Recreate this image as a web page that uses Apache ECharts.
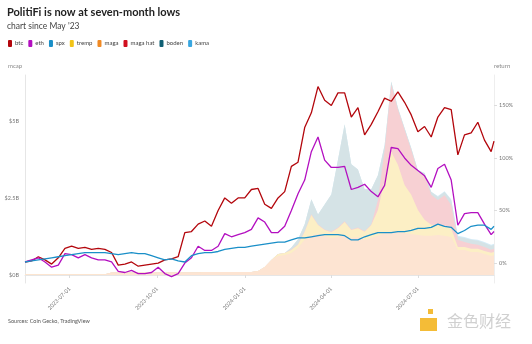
<!DOCTYPE html>
<html><head><meta charset="utf-8">
<script src="https://cdn.jsdelivr.net/npm/echarts@6/dist/echarts.min.js"></script>
<style>html,body{margin:0;padding:0;background:#fff}#c{width:532px;height:344px}</style>
</head><body><div id="c"></div>
<script>
// weekly dates from 2023-05-15, plus last day
const startDay = '2023-05-15';
const lastDay = '2024-09-19';
const weeks = 71;
const xTickLabels = ['2023-07-01','2023-10-01','2024-01-01','2024-04-01','2024-07-01'];
const leftTicks = [0, 2.5, 5];
const leftTickLabels = ['$0B','$2.5B','$5B'];
const rightTicks = [0, 50, 100, 150];

// returns, % (72 points)
const btc = [1,2,6,3,-1,5,14,16,14,15,13,14,
  13,10,-2,-1,1,-3,-2,-1,0,3,4,6,
  29,30,37,40,35,50,62,57,62,62,70,71,
  56,52,62,68,92,96,129,143,168,155,150,162,
  162,139,148,122,132,144,157,154,163,153,141,125,
  130,120,139,148,146,103,122,124,134,117,106,116];
const eth = [1,3,5,1,-4,-2,9,8,5,8,5,3,
  3,1,-8,-9,-7,-10,-10,-9,-4,-10,-13,-10,
  0,5,16,12,12,16,28,25,27,29,32,43,
  39,29,29,35,50,66,79,106,120,98,91,91,
  92,70,72,75,68,63,74,110,109,100,93,88,
  83,72,90,94,79,36,47,48,48,37,27,30];
const spx = [1,2,3,4,5,6,7,8,9,10,10,10,
  10,9,8,9,10,9,9,7,5,3,4,2,
  1,7,9,10,10,11,13,14,15,15,16,17,
  18,19,20,20,22,24,24,25,26,27,27,27,
  26,22,22,25,27,29,29,29,30,30,31,33,
  33,34,37,35,34,28,31,35,36,36,32,35];

// market caps, $B (72 points each, stacked maga -> tremp -> maga hat -> boden -> kama)
const maga = [0.02,0.02,0.02,0.02,0.02,0.02,0.02,0.02,0.02,0.02,0.02,0.02,
  0.02,0.08,0.08,0.08,0.08,0.08,0.08,0.08,0.08,0.08,0.08,0.08,
  0.08,0.08,0.08,0.1,0.1,0.1,0.1,0.1,0.1,0.1,0.1,0.13,
  0.26,0.49,0.62,0.65,0.71,0.88,1.14,1.27,1.33,1.27,1.2,1.23,
  1.27,1.2,1.23,1.14,1.2,1.27,1.36,1.4,1.4,1.36,1.33,1.3,
  1.27,1.27,1.3,1.27,1.23,0.81,0.81,0.75,0.75,0.68,0.62,0.65];
const tremp = [0,0,0,0,0,0,0,0,0,0,0,0,
  0,0,0,0,0,0,0,0,0,0,0,0,
  0,0,0,0,0,0,0,0,0,0,0,0,
  0,0,0.06,0.06,0.1,0.1,0.26,0.68,0.29,0.19,0.19,0.29,
  0.45,0.26,0.29,0.26,0.42,0.84,1.72,2.6,2.18,1.56,1.27,0.81,
  0.52,0.36,0.32,0.32,0.29,0.1,0.1,0.1,0.1,0.1,0.1,0.1];
const magaHat = [0,0,0,0,0,0,0,0,0,0,0,0,
  0,0,0,0,0,0,0,0,0,0,0,0,
  0,0,0,0,0,0,0,0,0,0,0,0,
  0,0,0,0,0.02,0.02,0.02,0.02,0.02,0.02,0.02,0.02,
  0.02,0.02,0.02,0.02,0.02,0.32,0.97,2.18,1.79,1.79,1.46,1.23,
  1.46,0.97,0.81,1.0,0.75,0.23,0.16,0.16,0.13,0.13,0.1,0.1];
const boden = [0,0,0,0,0,0,0,0,0,0,0,0,
  0,0,0,0,0,0,0,0,0,0,0,0,
  0,0,0,0,0,0,0,0,0,0,0,0,
  0,0,0,0,0.06,0.16,0.23,0.49,0.32,0.81,1.2,2.2,
  3.15,2.11,1.88,1.36,1.14,0.81,0.16,0.1,0.06,0.06,0.06,0.06,
  0.06,0.1,0.1,0.1,0.16,0.1,0.13,0.13,0.13,0.13,0.13,0.13];
const kama = [0,0,0,0,0,0,0,0,0,0,0,0,
  0,0,0,0,0,0,0,0,0,0,0,0,
  0,0,0,0,0,0,0,0,0,0,0,0,
  0,0,0,0,0,0,0,0,0,0,0,0,
  0,0,0,0,0,0,0,0,0,0,0,0,
  0,0,0.03,0.03,0.03,0.03,0.03,0.03,0.03,0.03,0.03,0.03];

const DAY = 864e5;
const t0 = Date.parse(startDay + 'T00:00:00Z');
const dates = [];
for (let i = 0; i < weeks; i++) dates.push(t0 + i * 7 * DAY);
dates.push(Date.parse(lastDay + 'T00:00:00Z'));
const pair = arr => arr.map((v, i) => [dates[i], v]);
const xTickValues = xTickLabels.map(s => Date.parse(s + 'T00:00:00Z'));

// cumulative tops of the stacked layers (drawn back-to-front, opaque fills)
const layers = [maga, tremp, magaHat, boden, kama];
const cum = [];
layers.forEach((arr, k) => cum.push(arr.map((v, i) => +(v + (k ? cum[k - 1][i] : 0)).toFixed(3))));

const FONT = 'Lato';
const chart = echarts.init(document.getElementById('c'), null, {renderer: 'canvas'});
function lineS(name, data, color) {
  return {name, type: 'line', yAxisIndex: 1, data: pair(data), showSymbol: false, symbol: 'none',
    color, lineStyle: {width: 1.3, color}, z: 5, animation: false};
}
function areaS(name, data, color, fill) {
  return {name, type: 'line', yAxisIndex: 0, data: pair(data), showSymbol: false, symbol: 'none',
    color, lineStyle: {width: 0}, areaStyle: {color: fill, opacity: 1, origin: 'auto'}, z: 2, animation: false};
}
const fmtDate = v => { const d = new Date(v); const p = n => String(n).padStart(2,'0'); return d.getUTCFullYear()+'-'+p(d.getUTCMonth()+1)+'-'+p(d.getUTCDate()); };

chart.setOption({
  animation: false,
  textStyle: {fontFamily: FONT},
  title: [
    {text: 'PolitiFi is now at seven-month lows', left: 7, top: 7, padding: 0,
     textStyle: {fontFamily: FONT, fontWeight: 'bold', fontSize: 11, color: '#222'}},
    {text: 'chart since May \'23', left: 7, top: 22, padding: 0,
     textStyle: {fontFamily: FONT, fontWeight: 'normal', fontSize: 8.5, color: '#444'}}
  ],
  legend: {
    left: 8, top: 40, padding: 0, icon: 'roundRect', itemWidth: 4, itemHeight: 7, itemGap: 5,
    textStyle: {fontFamily: FONT, fontSize: 6, color: '#444', padding: [0,0,0,-2]},
    data: ['btc','eth','spx','tremp','maga','maga hat','boden','kama']
  },
  grid: {left: 25, right: 38, top: 75, bottom: 61, containLabel: false},
  xAxis: {
    type: 'value', min: t0, max: dates[dates.length - 1],
    axisLine: {show: true, lineStyle: {color: '#e6e6e6'}},
    axisTick: {show: true, length: 3, lineStyle: {color: '#dddddd'}, customValues: xTickValues},
    splitLine: {show: false},
    axisLabel: {customValues: xTickValues, rotate: 45, fontSize: 5.5, color: '#777', margin: 5, formatter: v => fmtDate(v)}
  },
  yAxis: [
    {type: 'value', min: -0.26, max: 6.49, position: 'left',
     name: 'mcap', nameLocation: 'end', nameGap: 6, nameTextStyle: {fontSize: 6, color: '#888', align: 'left', padding: [0,0,0,-17]},
     axisLine: {show: true, lineStyle: {color: '#e6e6e6'}}, axisTick: {show: false},
     splitLine: {show: false},
     axisLabel: {customValues: leftTicks, fontSize: 5.5, color: '#777', margin: 6,
       formatter: v => leftTickLabels[leftTicks.indexOf(v)] || ''}},
    {type: 'value', min: -19, max: 179, position: 'right',
     name: 'return', nameLocation: 'end', nameGap: 6, nameTextStyle: {fontSize: 6, color: '#888', align: 'left'},
     axisLine: {show: true, lineStyle: {color: '#eeeeee'}}, axisTick: {show: true, length: 3, lineStyle: {color: '#dddddd'}, customValues: rightTicks},
     splitLine: {show: false},
     axisLabel: {customValues: rightTicks, fontSize: 5.5, color: '#777', margin: 5, formatter: v => v + '%'}}
  ],
  graphic: [
    {type: 'text', left: 8, top: 318, style: {text: 'Sources: Coin Gecko, TradingView', fontSize: 5.5, fill: '#555', fontFamily: FONT}},
    {type: 'rect', shape: {x: 420, y: 318, width: 17, height: 13}, style: {fill: '#f3b521', opacity: 0.9}},
    {type: 'rect', shape: {x: 428, y: 309, width: 5, height: 5}, style: {fill: '#f3b521', opacity: 0.9}},
    {type: 'text', left: 447, top: 313, style: {text: '金色财经', fontSize: 16, fill: '#d0d0d0', fontFamily: 'Noto Sans CJK SC'}}
  ],
  series: [
    lineS('btc', btc, '#b3060c'),
    lineS('eth', eth, '#b30fc0'),
    lineS('spx', spx, '#1a8fc8'),
    areaS('kama', cum[4], '#39a6e0', '#d6ecf7'),
    areaS('boden', cum[3], '#0f5f73', '#d5e3e6'),
    areaS('maga hat', cum[2], '#d10f1f', '#f7d0d3'),
    areaS('tremp', cum[1], '#f2c418', '#fcefc5'),
    areaS('maga', cum[0], '#f08a24', '#fde4d2')
  ]
});
</script></body></html>
